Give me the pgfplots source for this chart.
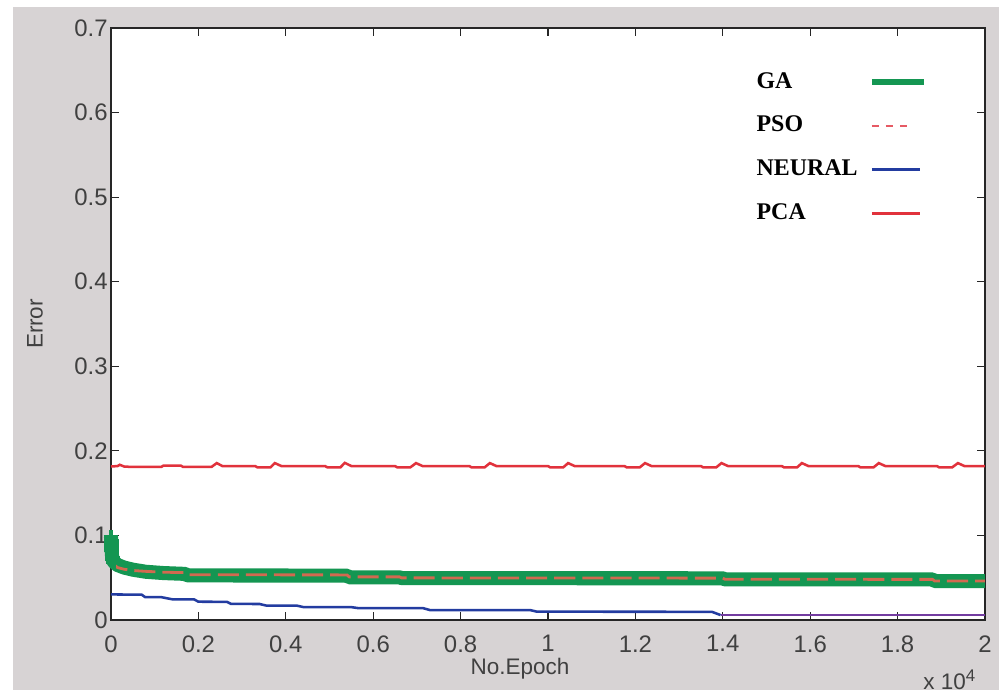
\documentclass[border=0pt]{standalone}
\usepackage{pgfplots}
\pgfplotsset{compat=1.18}
\usepackage{fontspec}
\setmainfont{Liberation Sans}
\newfontfamily\legfont{Liberation Serif}
\usetikzlibrary{backgrounds}

\definecolor{bggray}{RGB}{215,211,212}
\definecolor{gagreen}{RGB}{20,150,82}
\definecolor{psoc}{RGB}{210,105,80}
\definecolor{psoleg}{RGB}{230,90,100}
\definecolor{neuralblue}{RGB}{35,60,160}
\definecolor{neuralpurple}{RGB}{115,60,160}
\definecolor{pcared}{RGB}{225,50,60}

\begin{document}
\begin{tikzpicture}
\begin{axis}[
    name=ax,
    scale only axis,
    width=10.925cm,
    height=7.4cm,
    xmin=0, xmax=20000,
    ymin=0, ymax=0.7,
    clip=false,
    scaled x ticks=false,
    scaled y ticks=false,
    axis background/.style={fill=white},
    xtick={0,2000,4000,6000,8000,10000,12000,14000,16000,18000,20000},
    xticklabels={0,0.2,0.4,0.6,0.8,1,1.2,1.4,1.6,1.8,2},
    ytick={0,0.1,0.2,0.3,0.4,0.5,0.6,0.7},
    yticklabels={0,0.1,0.2,0.3,0.4,0.5,0.6,0.7},
    tick align=inside,
    major tick length=0.1cm,
    axis line style={black!85},
    every tick/.style={black!85},
    tick label style={font=\fontsize{8.5}{10}\selectfont, text=black!75},
    /pgf/number format/assume math mode=true,
    yticklabel style={inner sep=1pt},
    xticklabel style={yshift=-0.07cm},
    xlabel={No.Epoch},
    ylabel={Error},
    label style={font=\fontsize{8}{10}\selectfont, text=black!75},
    xlabel style={at={(axis description cs:0.468,-0.082)}, anchor=center},
    ylabel style={at={(axis description cs:-0.087,0.5)}, anchor=center},
    legend plot pos=right,
    legend cell align=left,
    legend style={draw=none, fill=none, at={(rel axis cs:0.722,0.945)}, anchor=north west,
        font={\legfont\bfseries\fontsize{8.5}{10}\selectfont}, row sep=4.4pt, column sep=2pt},
]
% GA
\addplot[gagreen, line width=5pt, line join=round,
    mark=+, mark indices={1,2,3,4,5,6,7}, mark size=2.6pt, mark options={line width=1.6pt, solid},
    legend image code/.code={\draw[gagreen, line width=2.2pt] (0cm,0cm) -- (0.65cm,0cm);}]
  coordinates {
  (0,0.098) (5,0.093) (10,0.088) (15,0.083) (20,0.078) (30,0.073) (60,0.069)
  (150,0.065) (300,0.062) (500,0.0595) (800,0.057) (1200,0.0555) (1700,0.0545)
  (1750,0.0527) (5400,0.0525) (5450,0.0505) (6600,0.0505) (6650,0.0495)
  (14000,0.0493) (14050,0.048) (18800,0.048) (18850,0.046) (20000,0.046)};
\addlegendentry{GA}
% PSO
\addplot[psoc, line width=1pt, dash pattern=on 7.5pt off 2.5pt,
    legend image code/.code={\draw[psoleg, line width=0.8pt, dash pattern=on 2.5pt off 2.5pt] (0cm,0cm) -- (0.5cm,0cm);}]
  coordinates {
  (0,0.072) (50,0.066) (150,0.062) (300,0.060) (500,0.0585) (800,0.0575) (1200,0.0565)
  (1700,0.056) (1750,0.0535) (5400,0.0533) (5450,0.051) (6600,0.051) (6650,0.0498)
  (14000,0.0495) (14050,0.0482) (18800,0.048) (18850,0.046) (20000,0.046)};
\addlegendentry{PSO}
% NEURAL
\addplot[neuralblue, line width=0.9pt] coordinates {
  (0,0.0302) (700,0.0300) (780,0.0271) (1150,0.0270) (1400,0.0245) (1900,0.0244)
  (2000,0.0216) (2650,0.0215) (2750,0.0190) (3400,0.0189) (3550,0.0171) (4250,0.0170)
  (4400,0.0153) (5500,0.0152) (5650,0.0141) (7150,0.0139) (7300,0.0117) (9600,0.0116)
  (9750,0.0098) (13750,0.0097) (13950,0.0058)};
\addlegendentry{NEURAL}
% PCA
\addplot[pcared, line width=0.9pt] coordinates {
  (0,0.1815) (150,0.182) (200,0.1835) (300,0.1815) (450,0.181) (1150,0.181) (1200,0.1825)
  (1600,0.1825) (1650,0.181) (2300,0.181) (2420,0.1855) (2550,0.182)
  (3300,0.182) (3350,0.1805) (3650,0.1805) (3750,0.1855) (3900,0.182)
  (4900,0.182) (4950,0.1805) (5250,0.1805) (5350,0.1858) (5500,0.182)
  (6500,0.182) (6550,0.1805) (6850,0.1805) (6980,0.1855) (7130,0.182)
  (8200,0.182) (8250,0.1805) (8550,0.1805) (8670,0.1855) (8820,0.182)
  (10000,0.182) (10050,0.1805) (10350,0.1805) (10460,0.1855) (10610,0.182)
  (11750,0.182) (11800,0.1805) (12100,0.1805) (12220,0.1855) (12370,0.182)
  (13500,0.182) (13550,0.1805) (13850,0.1805) (13970,0.1855) (14120,0.182)
  (15350,0.182) (15400,0.1805) (15700,0.1805) (15810,0.1855) (15960,0.182)
  (17100,0.182) (17150,0.1805) (17450,0.1805) (17570,0.1855) (17720,0.182)
  (18900,0.182) (18950,0.1805) (19250,0.1805) (19380,0.1855) (19530,0.182)
  (20000,0.182)};
\addlegendentry{PCA}
% NEURAL tail (drawn purple in the original)
\addplot[neuralpurple, line width=0.9pt, forget plot] coordinates {
  (13950,0.0058) (20000,0.0058)};
\node[font=\fontsize{8}{10}\selectfont, text=black!75] at (axis description cs:0.96,-0.101) {x 10\textsuperscript{4}};
\end{axis}
\begin{scope}[on background layer]
\fill[bggray] ([shift={(-1.225cm,-0.875cm)}]ax.south west) rectangle ([shift={(0.175cm,0.2625cm)}]ax.north east);
\end{scope}
\pgfresetboundingbox
\path[use as bounding box] ([shift={(-1.3875cm,-0.9125cm)}]ax.south west) rectangle ([shift={(0.175cm,0.35cm)}]ax.north east);
\end{tikzpicture}
\end{document}
